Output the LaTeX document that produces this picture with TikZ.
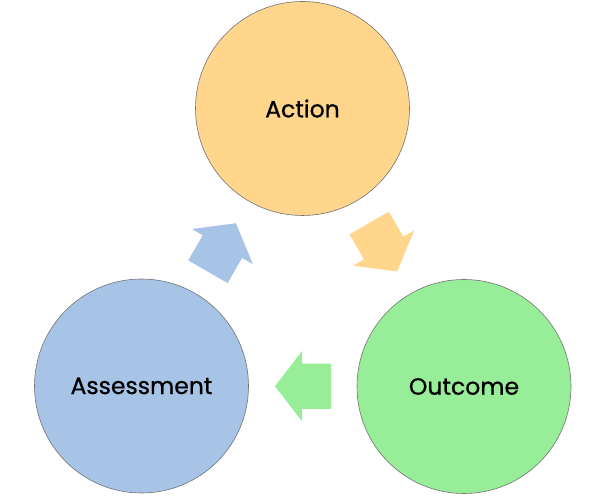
\documentclass[tikz,border=0pt]{standalone}
\usepackage{fontspec}
\setmainfont{Poppins}
\newfontfamily\stagefont{Poppins}[FakeBold=0.7]
\usetikzlibrary{shapes.arrows,calc}
\definecolor{actionfill}{RGB}{255,214,139}
\definecolor{assessfill}{RGB}{167,196,231}
\definecolor{outcomefill}{RGB}{152,238,152}
\begin{document}
\begin{tikzpicture}[x=1pt, y=1pt,
    stage/.style={circle, draw=black!55, line width=0.6pt, minimum size=214pt, inner sep=0pt, font=\stagefont\fontsize{23.5}{28}\selectfont},
    cyclearrow/.style={single arrow, minimum height=56pt, minimum width=70pt, inner xsep=0pt, inner ysep=22.5pt, single arrow head extend=12.5pt, single arrow tip angle=105, anchor=tip}]
 \useasboundingbox (0,0) rectangle (605,497);
 \begin{scope}
        \node[stage, fill=actionfill] (Action) at (302.5,388.5) {Action};
        \node[stage, fill=assessfill] (Assessment) at (141.5,111) {Assessment};
        \node[stage, fill=outcomefill] (Outcome) at (464,110.5) {Outcome};
        \node[cyclearrow, fill=actionfill, rotate=-60] (A-O) at ($(Action)!0.5!(Outcome)!28pt!(Outcome)$) {};
        \node[cyclearrow, fill=outcomefill, rotate=180] (O-S) at ($(Outcome)!0.5!(Assessment)!28pt!(Assessment)$) {};
        \node[cyclearrow, fill=assessfill, rotate=60] (S-A) at ($(Assessment)!0.5!(Action)!28pt!(Action)$) {};
    \end{scope}
\end{tikzpicture}
\end{document}
